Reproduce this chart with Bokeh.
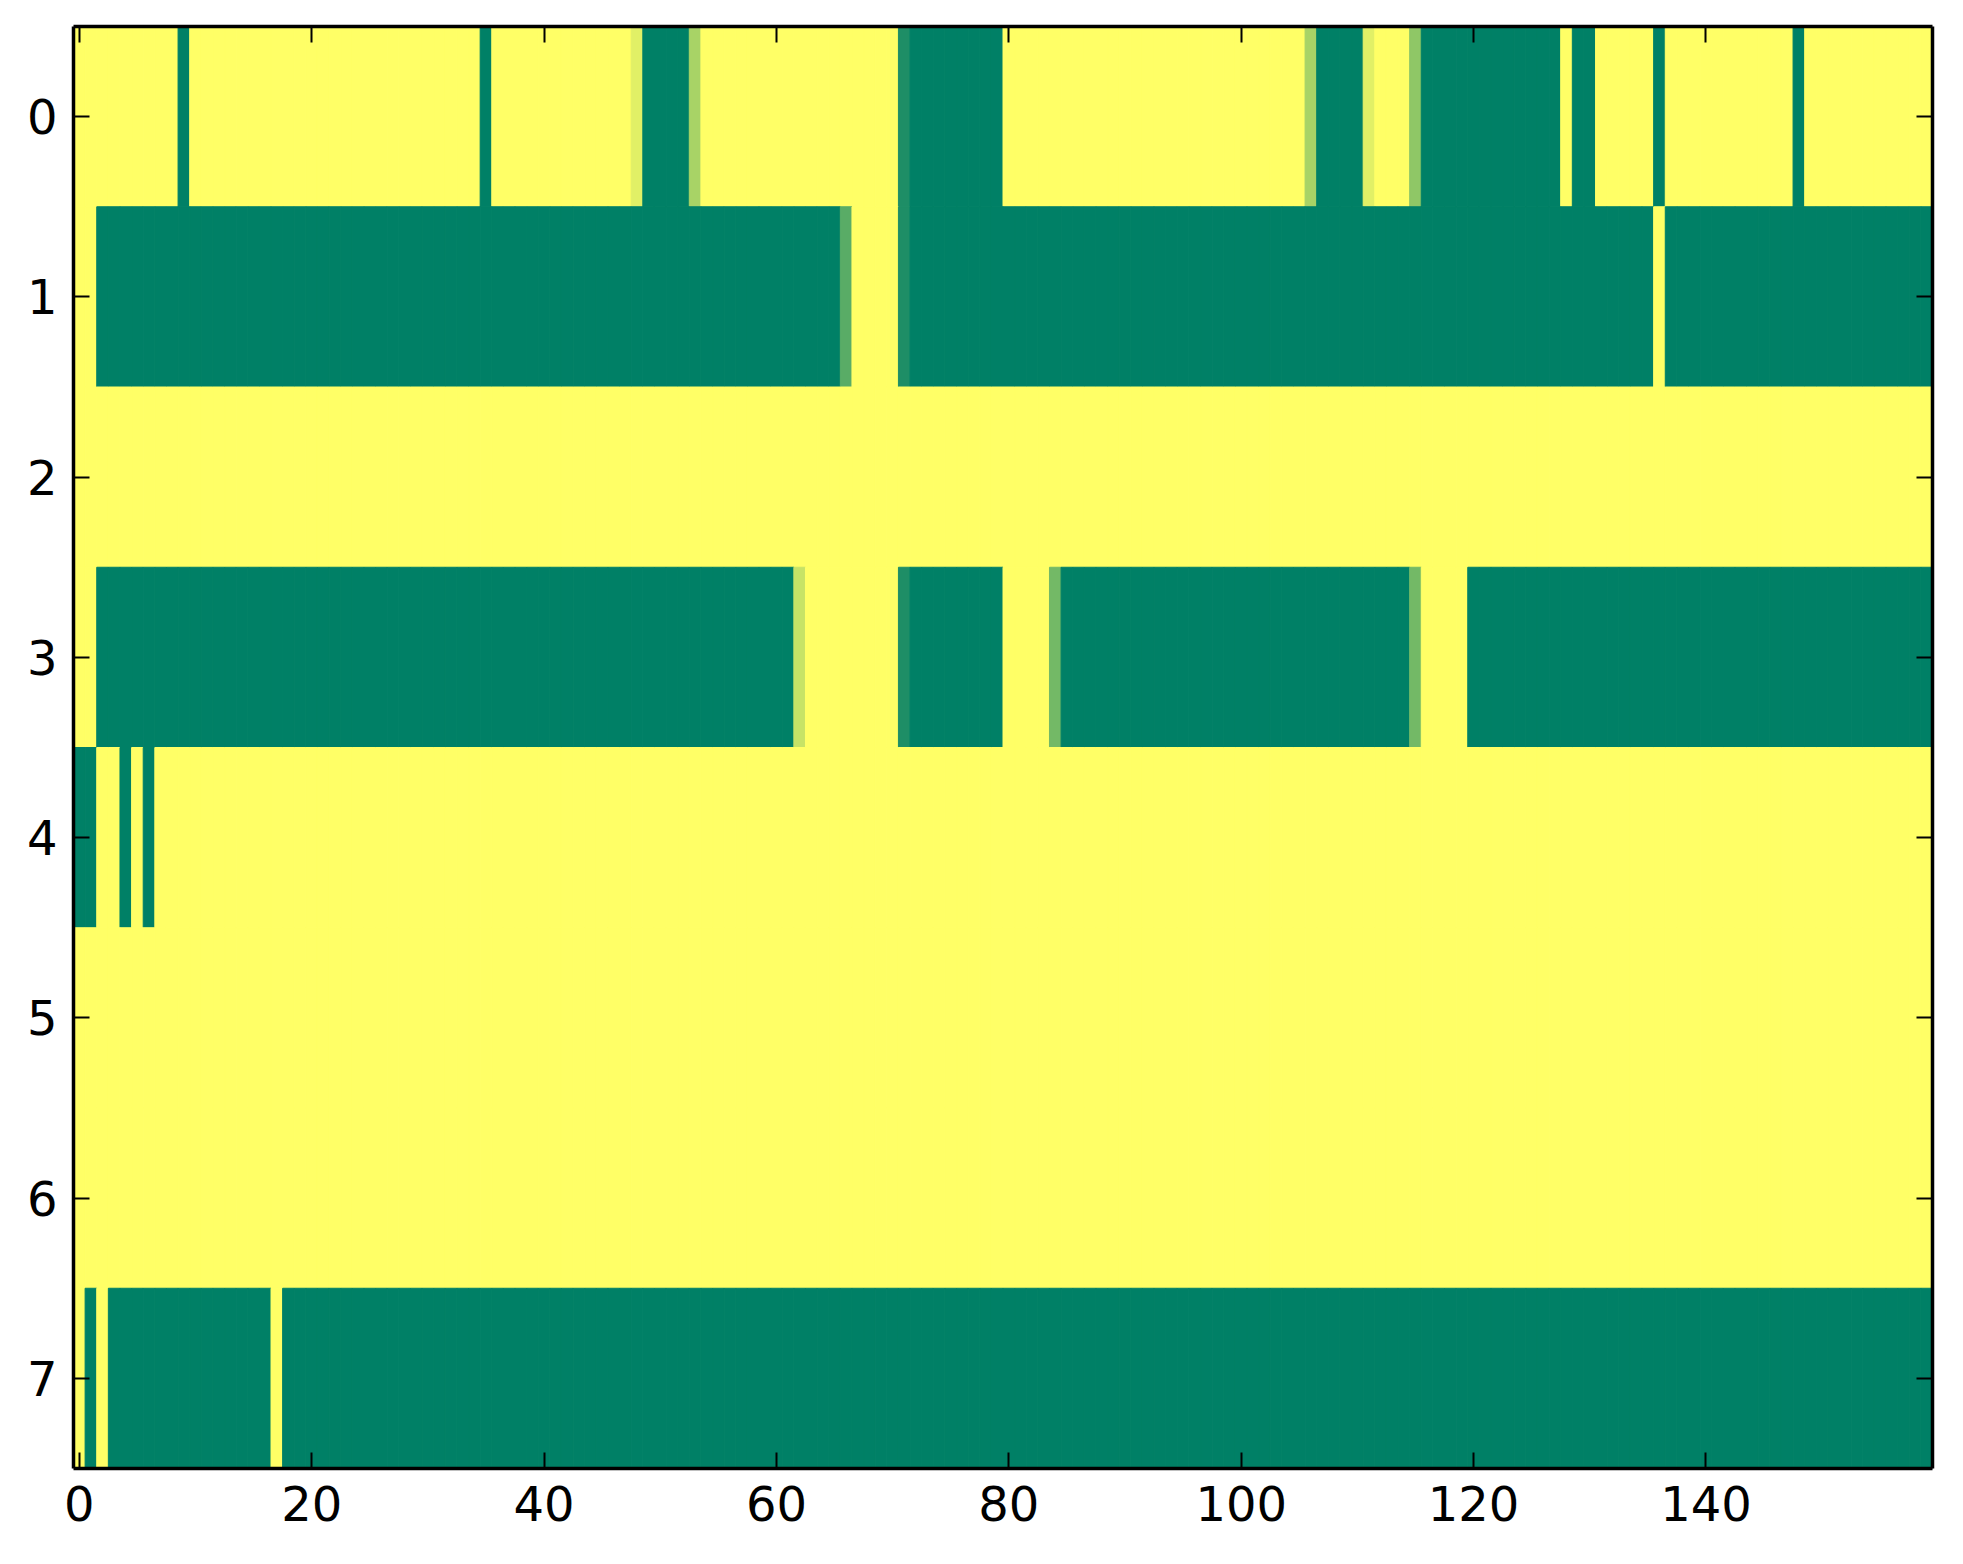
from bokeh.plotting import figure
from bokeh.models import Range1d, FixedTicker, LinearAxis, ColumnDataSource, LinearColorMapper
from bokeh.transform import transform
from bokeh.embed import file_html
from bokeh.resources import INLINE

# Each row: run-length list of (value, number of columns)
row0 = [(1, 9), (0, 1), (1, 25), (0, 1), (1, 12), (0.88, 1), (0, 4), (0.66, 1), (1, 17),
        (0.12, 1), (0, 8), (1, 26), (0.66, 1), (0, 4), (0.88, 1), (1, 3), (0.56, 1),
        (0, 12), (1, 1), (0, 2), (1, 5), (0, 1), (1, 11), (0, 1), (1, 11)]
row1 = [(1, 2), (0, 64), (0.35, 1), (1, 4), (0.12, 1), (0, 64), (1, 1), (0, 23)]
row2 = [(1, 160)]
row3 = [(1, 2), (0, 60), (0.78, 1), (1, 8), (0.12, 1), (0, 8), (1, 4), (0.45, 1),
        (0, 30), (0.45, 1), (1, 4), (0, 40)]
row4 = [(0, 2), (1, 2), (0, 1), (1, 1), (0, 1), (1, 153)]
row5 = [(1, 160)]
row6 = [(1, 160)]
row7 = [(1, 1), (0, 1), (1, 1), (0, 14), (1, 1), (0, 142)]
rows = [row0, row1, row2, row3, row4, row5, row6, row7]

x_ticks = [0, 20, 40, 60, 80, 100, 120, 140]
y_ticks = [0, 1, 2, 3, 4, 5, 6, 7]

xs, ys, vs = [], [], []
for r, runs in enumerate(rows):
    c = 0
    for v, n in runs:
        for _ in range(n):
            xs.append(c)
            ys.append(r)
            vs.append(v)
            c += 1

src = ColumnDataSource(dict(x=xs, y=ys, v=vs))

# matplotlib "summer" colormap
palette = []
for i in range(256):
    t = i / 255
    rr, gg, bb = t, 0.5 + 0.5 * t, 0.4
    palette.append("#%02x%02x%02x" % (round(rr * 255), round(gg * 255), round(bb * 255)))
mapper = LinearColorMapper(palette=palette, low=0, high=1)

p = figure(width=1947, height=1548, output_backend="svg", toolbar_location=None,
           x_range=Range1d(-0.5, 159.5), y_range=Range1d(7.5, -0.5),
           min_border_left=73, min_border_right=15, min_border_top=26, min_border_bottom=80,
           frame_width=1859, frame_height=1442)
p.rect(x="x", y="y", width=1, height=1, source=src,
       fill_color=transform("v", mapper), line_color=transform("v", mapper), line_width=1)

p.grid.visible = False
p.outline_line_color = None
p.background_fill_color = "white"

font = "DejaVu Sans"
fs = "48px"

def style(ax, show_labels, ticks):
    ax.ticker = FixedTicker(ticks=ticks)
    ax.axis_line_color = "black"
    ax.axis_line_width = 3.5
    ax.major_tick_in = 16
    ax.major_tick_out = 0
    ax.major_tick_line_width = 2
    ax.major_tick_line_color = "black"
    ax.minor_tick_line_color = None
    ax.major_label_text_font = font
    ax.major_label_text_font_size = fs
    ax.major_label_text_color = "black"
    if not show_labels:
        ax.major_label_text_alpha = 0
        ax.major_label_text_font_size = "1px"

style(p.xaxis[0], True, x_ticks)
p.xaxis[0].major_label_standoff = 17
style(p.yaxis[0], True, y_ticks)
p.yaxis[0].major_label_standoff = 16

top = LinearAxis()
style(top, False, x_ticks)
p.add_layout(top, "above")
right = LinearAxis()
style(right, False, y_ticks)
p.add_layout(right, "right")

open("out.html", "w").write(file_html(p, INLINE))
